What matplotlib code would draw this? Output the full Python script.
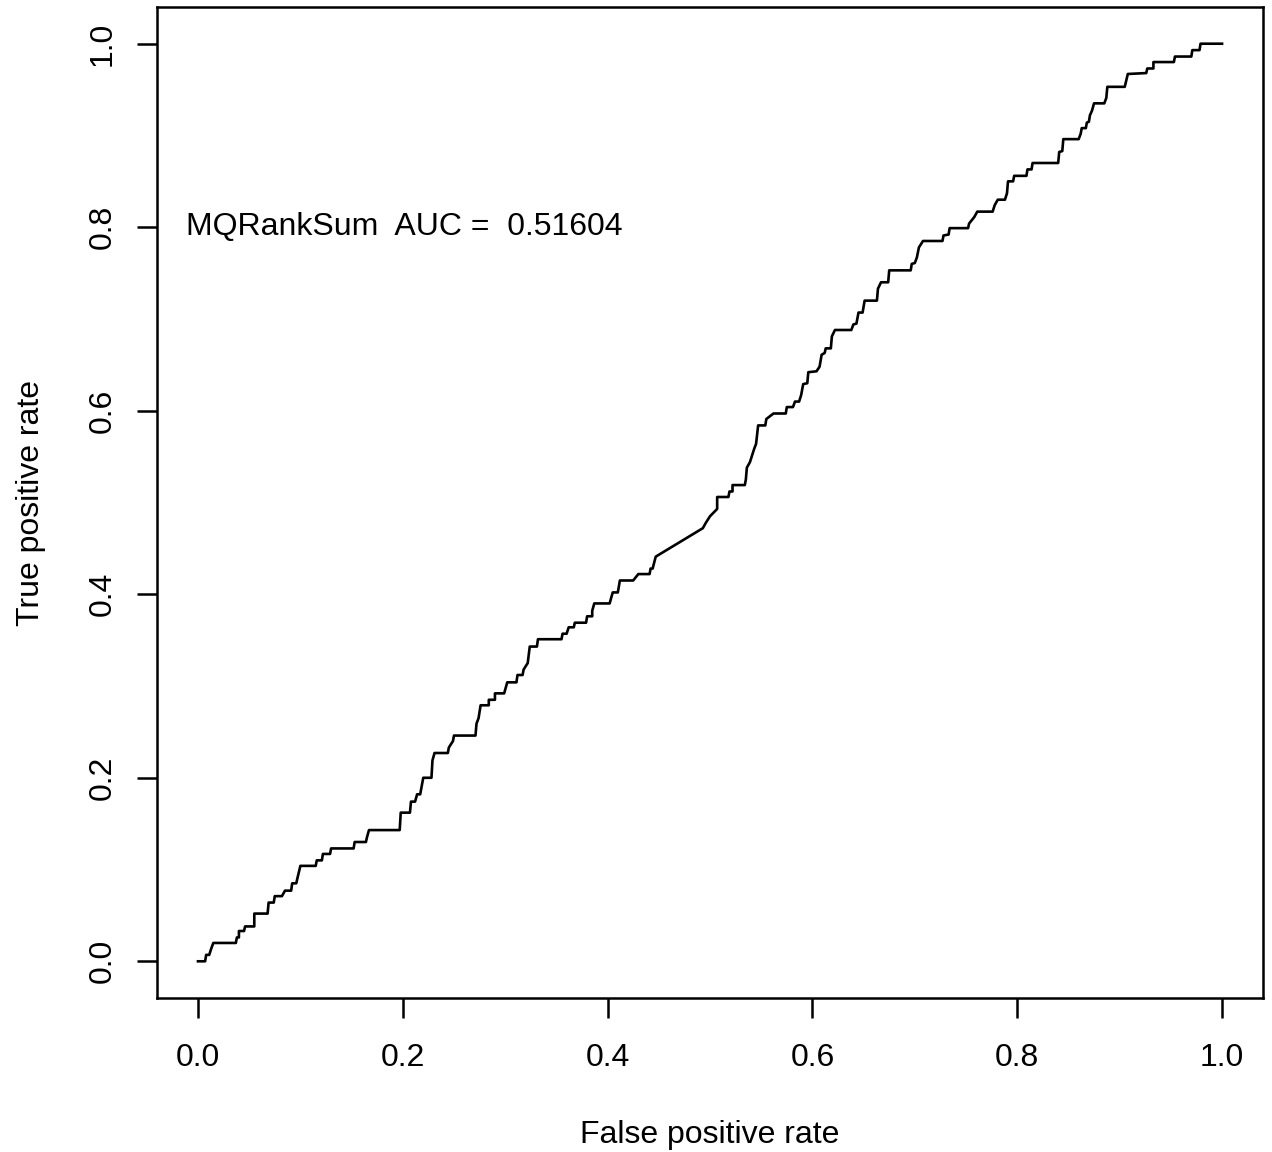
import matplotlib
matplotlib.use("Agg")
import matplotlib.pyplot as plt

# ROC curve (vertices of the step curve)
fpr = [0, 0.007, 0.008, 0.011, 0.013, 0.015, 0.037, 0.038, 0.040, 0.040,
       0.045, 0.046, 0.055, 0.055, 0.068, 0.069, 0.074, 0.075, 0.082, 0.085,
       0.091, 0.092, 0.096, 0.097, 0.100, 0.115, 0.116, 0.121, 0.122, 0.129,
       0.130, 0.152, 0.153, 0.164, 0.165, 0.167, 0.197, 0.198, 0.207, 0.208,
       0.212, 0.214, 0.217, 0.219, 0.220, 0.228, 0.229, 0.231, 0.244, 0.245,
       0.249, 0.250, 0.271, 0.272, 0.274, 0.276, 0.284, 0.284, 0.290, 0.290,
       0.299, 0.302, 0.311, 0.312, 0.317, 0.318, 0.322, 0.324, 0.331, 0.332,
       0.355, 0.356, 0.360, 0.362, 0.367, 0.368, 0.379, 0.380, 0.385, 0.385,
       0.387, 0.402, 0.405, 0.410, 0.412, 0.425, 0.430, 0.441, 0.442, 0.444,
       0.447, 0.493, 0.496, 0.500, 0.507, 0.507, 0.518, 0.519, 0.522, 0.522,
       0.534, 0.535, 0.536, 0.539, 0.541, 0.543, 0.545, 0.547, 0.554, 0.555,
       0.562, 0.574, 0.575, 0.581, 0.583, 0.587, 0.589, 0.591, 0.595, 0.596,
       0.604, 0.607, 0.609, 0.612, 0.613, 0.618, 0.619, 0.622, 0.638, 0.640,
       0.643, 0.645, 0.649, 0.651, 0.663, 0.664, 0.667, 0.674, 0.675, 0.696,
       0.697, 0.700, 0.702, 0.704, 0.708, 0.727, 0.728, 0.733, 0.734, 0.752,
       0.753, 0.758, 0.761, 0.776, 0.778, 0.781, 0.788, 0.790, 0.791, 0.796,
       0.797, 0.809, 0.810, 0.814, 0.815, 0.840, 0.841, 0.844, 0.845, 0.860,
       0.862, 0.863, 0.867, 0.868, 0.870, 0.871, 0.873, 0.875, 0.885, 0.887,
       0.888, 0.905, 0.907, 0.908, 0.926, 0.927, 0.933, 0.933, 0.953, 0.954,
       0.970, 0.971, 0.978, 0.979, 1.0]
tpr = [0, 0, 0.007, 0.007, 0.014, 0.020, 0.020, 0.026, 0.026, 0.033,
       0.033, 0.038, 0.038, 0.052, 0.052, 0.064, 0.064, 0.071, 0.071, 0.077,
       0.077, 0.085, 0.085, 0.090, 0.104, 0.104, 0.110, 0.110, 0.117, 0.117,
       0.123, 0.123, 0.130, 0.130, 0.135, 0.143, 0.143, 0.162, 0.162, 0.174,
       0.174, 0.182, 0.182, 0.194, 0.200, 0.200, 0.219, 0.227, 0.227, 0.233,
       0.240, 0.246, 0.246, 0.259, 0.265, 0.279, 0.279, 0.285, 0.285, 0.292,
       0.292, 0.304, 0.304, 0.312, 0.312, 0.318, 0.325, 0.343, 0.343, 0.351,
       0.351, 0.357, 0.357, 0.364, 0.364, 0.369, 0.369, 0.376, 0.376, 0.382,
       0.390, 0.390, 0.402, 0.402, 0.415, 0.415, 0.422, 0.422, 0.428, 0.428,
       0.441, 0.472, 0.478, 0.485, 0.493, 0.506, 0.506, 0.512, 0.512, 0.519,
       0.519, 0.525, 0.538, 0.544, 0.551, 0.558, 0.564, 0.584, 0.584, 0.591,
       0.597, 0.597, 0.604, 0.604, 0.610, 0.610, 0.617, 0.629, 0.630, 0.642,
       0.643, 0.648, 0.661, 0.663, 0.668, 0.668, 0.681, 0.688, 0.688, 0.694,
       0.695, 0.707, 0.707, 0.720, 0.720, 0.733, 0.740, 0.740, 0.753, 0.753,
       0.760, 0.761, 0.767, 0.778, 0.785, 0.785, 0.791, 0.792, 0.799, 0.799,
       0.804, 0.811, 0.817, 0.817, 0.824, 0.830, 0.830, 0.837, 0.850, 0.850,
       0.856, 0.856, 0.863, 0.863, 0.870, 0.870, 0.882, 0.883, 0.896, 0.896,
       0.902, 0.908, 0.908, 0.914, 0.915, 0.922, 0.927, 0.935, 0.935, 0.941,
       0.953, 0.953, 0.962, 0.967, 0.968, 0.973, 0.973, 0.980, 0.980, 0.986,
       0.986, 0.993, 0.993, 1.0, 1.0]

feature = "MQRankSum"
auc = 0.51604
ticks = [0.0, 0.2, 0.4, 0.6, 0.8, 1.0]

plt.rcParams['font.family'] = ['Liberation Sans', 'DejaVu Sans']
plt.rcParams['font.size'] = 23

fig = plt.figure(figsize=(12.72, 11.52), dpi=100)
ax = fig.add_axes([157 / 1272, 1 - 998 / 1152, 1106 / 1272, 991 / 1152])

ax.plot(fpr, tpr, color='black', lw=1.9)
ax.text(-0.012, 0.8, feature + "  AUC =  " + str(auc), ha='left', va='center')

ax.set_xlim(-0.04, 1.04)
ax.set_ylim(-0.04, 1.04)
ax.set_xticks(ticks)
ax.set_yticks(ticks)
ax.set_xticklabels(["%.1f" % t for t in ticks])
ax.set_yticklabels(["%.1f" % t for t in ticks], rotation=90, va='center')
ax.tick_params(length=14.4, width=1.8, direction='out')
ax.tick_params(axis='x', pad=18)
ax.tick_params(axis='y', pad=14)
for s in ax.spines.values():
    s.set_linewidth(1.8)

ax.set_xlabel("False positive rate", labelpad=34)
ax.set_ylabel("True positive rate", labelpad=30)

fig.savefig("out.png", dpi=100)
